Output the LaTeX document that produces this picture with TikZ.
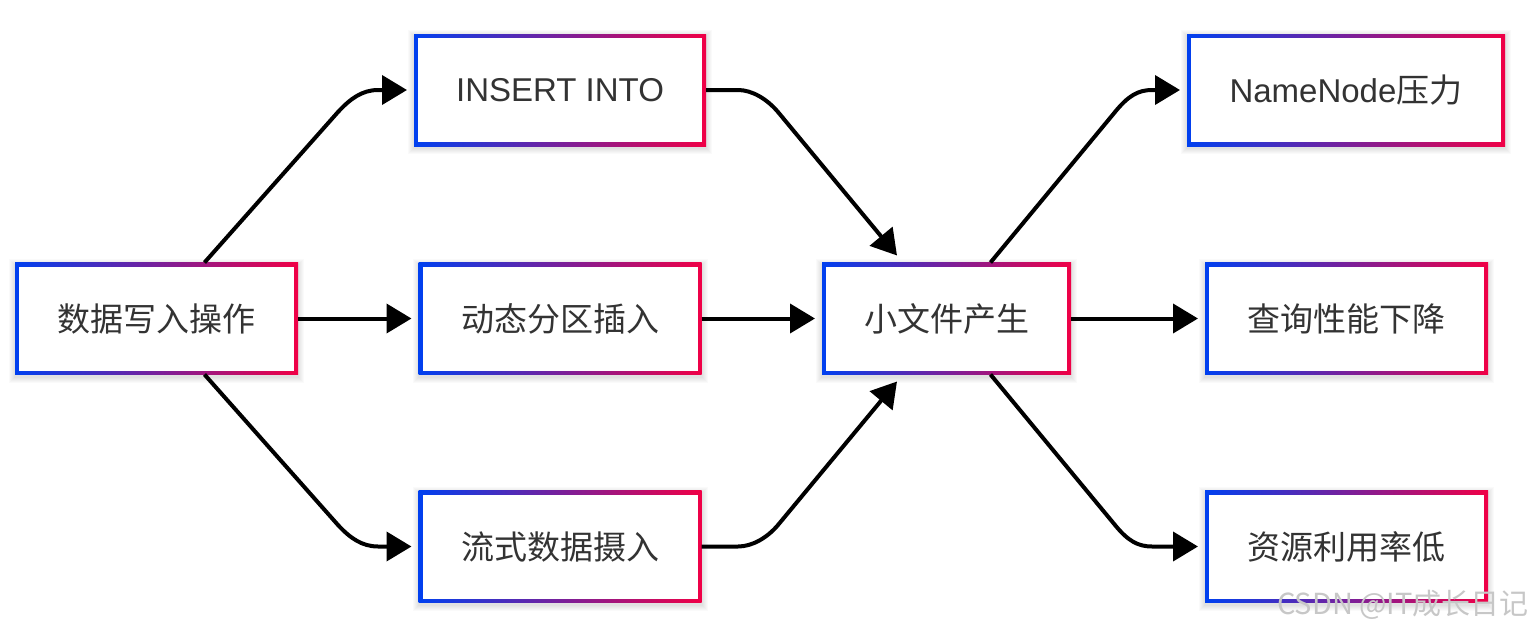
\documentclass[tikz,border=0pt]{standalone}
\usepackage{fontspec}
\setmainfont{Liberation Sans}
\newfontfamily\cjk{Noto Sans CJK SC}
\usetikzlibrary{arrows.meta,calc}
\definecolor{gblue}{RGB}{0,64,240}
\definecolor{gred}{RGB}{240,0,70}
\definecolor{txt}{RGB}{51,51,51}
\newcommand\gbox[6]{%
  \foreach \k in {1,...,6}{\fill[black,opacity=0.018] (#2-#4/2-\k,#3-#5/2-\k+2) rectangle (#2+#4/2+\k,#3+#5/2+\k+2);}
  \node[gradbox,minimum width=#4pt,minimum height=#5pt] (#1) at (#2,#3) {};
  \node[innerbox,minimum width=#4pt-8pt,minimum height=#5pt-8pt] at (#1) {#6};
}
\tikzset{
  gradbox/.style={rectangle,inner sep=0pt,outer sep=0pt,left color=gblue,right color=gred,draw=none},
  innerbox/.style={rectangle,inner sep=0pt,outer sep=0pt,fill=white,text=txt,font=\fontsize{33}{40}\selectfont},
  arr/.style={line width=4pt,line join=round,-{Triangle[length=25pt,width=29pt]},black},
  wmark/.style={font=\cjk\fontsize{29}{34}\selectfont,text=black!22,anchor=east,inner sep=0pt}
}
\begin{document}
\begin{tikzpicture}[x=1pt,y=-1pt]
\useasboundingbox[fill=white] (0,0) rectangle (1532,632);
\gbox{b1}{156.5}{318.5}{283}{112}{\cjk 数据写入操作}
\gbox{ins}{560}{90}{292}{112}{INSERT INTO}
\gbox{dyn}{560}{318.5}{283}{112}{\cjk 动态分区插入}
\gbox{str}{560}{546.5}{283}{112}{\cjk 流式数据摄入}
\gbox{sml}{946.5}{318.5}{249}{112}{\cjk 小文件产生}
\gbox{nn}{1346}{90}{318}{112}{NameNode{\cjk 压力}}
\gbox{qry}{1346.5}{318.5}{283}{112}{\cjk 查询性能下降}
\gbox{res}{1346.5}{546.5}{283}{112}{\cjk 资源利用率低}
% connectors
\draw[arr] ($(b1.north)+(48,0)$) -- (338,112) .. controls (350,99) and (362,90) .. (378,90) -- ($(ins.west)+(-7,0)$);
\draw[arr] (b1.east) -- ($(dyn.west)+(-7,0)$);
\draw[arr] ($(b1.south)+(48,0)$) -- (338,525) .. controls (350,538) and (362,546.5) .. (378,546.5) -- ($(str.west)+(-7,0)$);
\draw[arr] (ins.east) -- (738,90) .. controls (752,90) and (767,99) .. (778,112) -- ($(sml.north)+(-49.5,-7)$);
\draw[arr] (dyn.east) -- ($(sml.west)+(-7,0)$);
\draw[arr] (str.east) -- (738,546.5) .. controls (752,546.5) and (767,538) .. (778,525) -- ($(sml.south)+(-49.5,7)$);
\draw[arr] ($(sml.north)+(44,0)$) -- (1115,112) .. controls (1128,96) and (1138,90) .. (1152,90) -- ($(nn.west)+(-7,0)$);
\draw[arr] (sml.east) -- ($(qry.west)+(-7,0)$);
\draw[arr] ($(sml.south)+(44,0)$) -- (1115,525) .. controls (1128,541) and (1138,546.5) .. (1152,546.5) -- ($(res.west)+(-7,0)$);
% watermark
\node[wmark] (wm) at (1529,605) {CSDN @IT成长日记};
\end{tikzpicture}
\end{document}
